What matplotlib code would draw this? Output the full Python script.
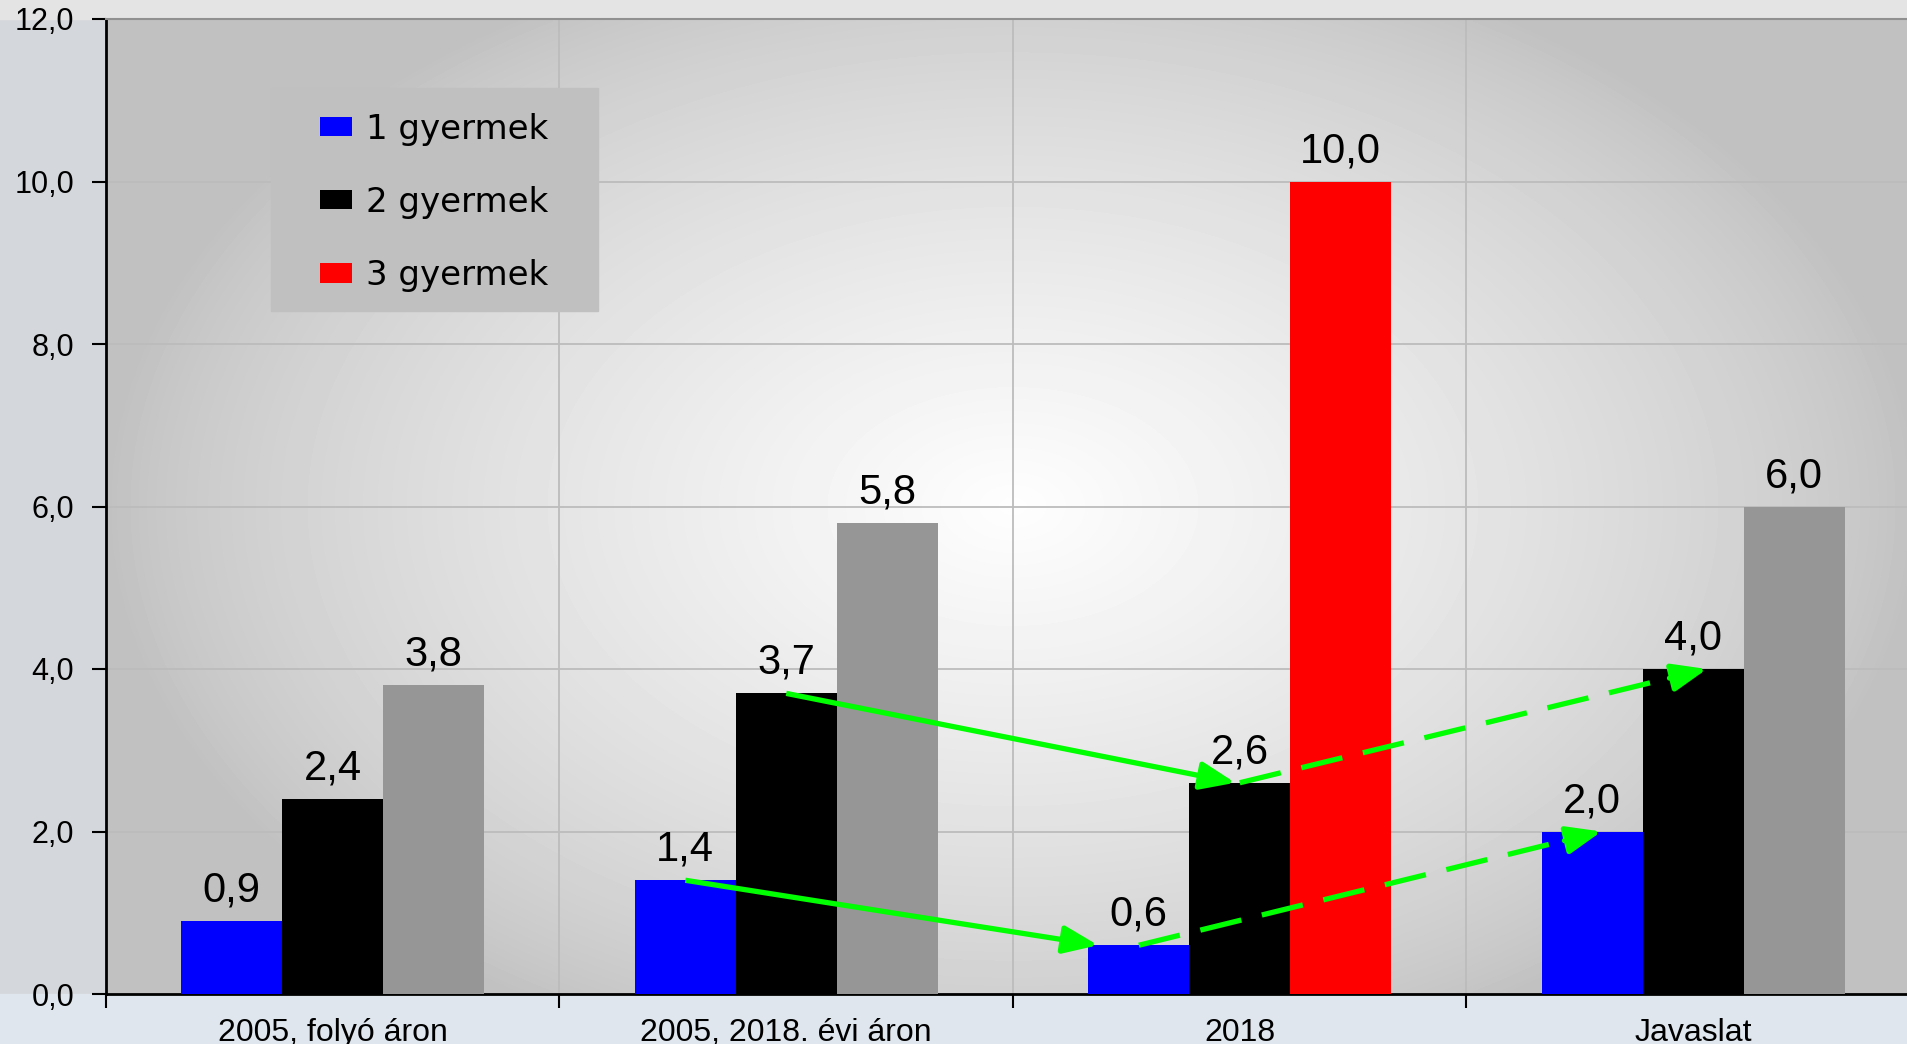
import numpy as np
import matplotlib.pyplot as plt
from matplotlib.patches import Patch, Rectangle

# === ADATOK ===
kategoriak = ['2005, folyó áron', '2005, 2018. évi áron', '2018', 'Javaslat']
gyermek1 = [0.9, 1.4, 0.6, 2.0]
gyermek2 = [2.4, 3.7, 2.6, 4.0]
gyermek3 = [3.8, 5.8, 10.0, 6.0]
sorozat_nevek = ['1 gyermek', '2 gyermek', '3 gyermek']
y_tickek = [0, 2, 4, 6, 8, 10, 12]

# nyilak: (honnan kategória, honnan sorozat, hova kategória, hova sorozat, stílus, x eltolás a csúcsnál)
nyilak = [
    (1, 1, 2, 1, 'solid', -0.01),
    (1, 0, 2, 0, 'solid', -0.09),
    (2, 1, 3, 1, 'dashed', 0.03),
    (2, 0, 3, 0, 'dashed', 0.02),
]

# === STÍLUS ===
KEK = '#0000ff'
FEKETE = '#000000'
SZURKE = '#969696'
PIROS = '#ff0000'
ZOLD = '#00ff00'
harmadik_szinek = [SZURKE, SZURKE, PIROS, SZURKE]
BAR_W = 0.2225

plt.rcParams['font.family'] = ['Liberation Sans', 'DejaVu Sans']

fig = plt.figure(figsize=(19.08, 10.44), dpi=100, facecolor='#d4d7db')
# háttér sávok a diagram körül
fig.patches.append(Rectangle((0, 0), 1, 50 / 1044, transform=fig.transFigure,
                             color='#dfe6ee', zorder=-5))
fig.patches.append(Rectangle((0, 1 - 19 / 1044), 1, 19 / 1044, transform=fig.transFigure,
                             color='#e4e4e4', zorder=-5))

ax = fig.add_axes([106 / 1908, 50 / 1044, 1814 / 1908, 975 / 1044])

# színátmenetes háttér
ny, nx = 200, 300
yy, xx = np.mgrid[0:1:ny * 1j, 0:1:nx * 1j]
r = np.sqrt(((xx - 0.5) / 0.5) ** 2 + ((yy - 0.5) / 0.6) ** 2)
val = np.clip(1 - r, 0, 1)
szurke = 0.755 + 0.24 * val ** 0.75
ax.imshow(szurke, cmap='gray', vmin=0, vmax=1, origin='lower', extent=(0, 1, 0, 1),
          transform=ax.transAxes, aspect='auto', zorder=0.1, interpolation='bilinear')

x = np.arange(len(kategoriak))
poz = [x - BAR_W, x, x + BAR_W]
ertekek = [gyermek1, gyermek2, gyermek3]
szinek = [[KEK] * 4, [FEKETE] * 4, harmadik_szinek]

for s in range(3):
    ax.bar(poz[s], ertekek[s], width=BAR_W, color=szinek[s], zorder=3)
    for xi, v in zip(poz[s], ertekek[s]):
        ax.annotate(f'{v:.1f}'.replace('.', ','), (xi, v), xytext=(0, 14),
                    textcoords='offset points', ha='center', va='baseline',
                    fontsize=30, zorder=7)

# zöld nyilak
for k0, s0, k1, s1, stilus, dx in nyilak:
    x0, y0 = poz[s0][k0], ertekek[s0][k0]
    x1, y1 = poz[s1][k1] + dx, ertekek[s1][k1]
    xm, ym = x0 + 0.92 * (x1 - x0), y0 + 0.92 * (y1 - y0)
    ls = (0, (8, 4)) if stilus == 'dashed' else '-'
    ax.plot([x0, xm], [y0, ym], color=ZOLD, lw=3.8, linestyle=ls,
            solid_capstyle='butt', dash_capstyle='butt', zorder=5)
    ax.annotate('', xy=(x1, y1), xytext=(xm, ym),
                arrowprops=dict(arrowstyle='-|>,head_length=1.5,head_width=0.6',
                                mutation_scale=14, color=ZOLD, lw=3.8,
                                shrinkA=0, shrinkB=0), zorder=6)

ax.set_xlim(-0.5, 3.5)
ax.set_ylim(0, 12)

ax.set_yticks(y_tickek)
ax.set_yticklabels([f'{t:.1f}'.replace('.', ',') for t in y_tickek], fontsize=22)
ax.set_xticks([-0.5, 0.5, 1.5, 2.5])
ax.set_xticklabels([])
ax.set_xticks(x, minor=True)
ax.set_xticklabels(kategoriak, minor=True, fontsize=23)
ax.tick_params(axis='x', which='minor', length=0, pad=17)
ax.tick_params(axis='x', which='major', length=10, width=1.5, direction='out')
ax.tick_params(axis='y', length=10, width=1.5, direction='out', pad=13)

ax.set_axisbelow(True)
ax.grid(True, which='major', color='#bcbcbc', lw=1.3)
for sp in ['left', 'bottom']:
    ax.spines[sp].set_linewidth(2)
    ax.spines[sp].set_color('black')
ax.spines['top'].set_color('#909090')
ax.spines['top'].set_linewidth(1.5)
ax.spines['right'].set_visible(False)

# jelmagyarázat
ax.add_patch(Rectangle((0.091, 0.701), 0.18, 0.228, transform=ax.transAxes,
                       color='#c0c0c0', zorder=2))
kezelok = [Patch(facecolor=c, edgecolor='none') for c in [KEK, FEKETE, PIROS]]
ax.legend(kezelok, sorozat_nevek, loc='upper left', bbox_to_anchor=(0.118, 0.904),
          frameon=False, borderpad=0, borderaxespad=0, handlelength=0.95,
          handleheight=0.5, labelspacing=1.18, handletextpad=0.4,
          prop={'family': 'DejaVu Sans', 'size': 24.5})

fig.savefig('out.png', dpi=100, facecolor=fig.get_facecolor())
